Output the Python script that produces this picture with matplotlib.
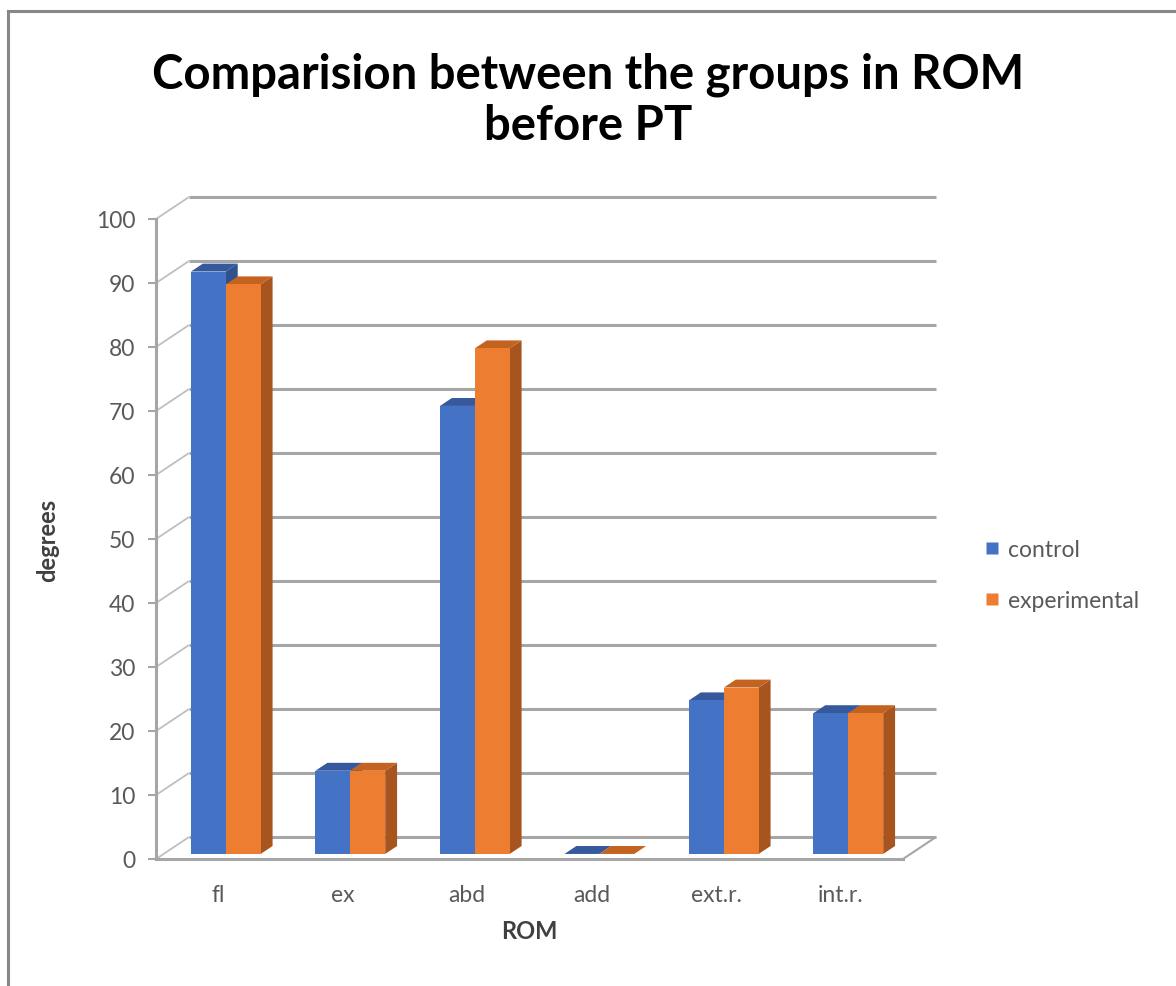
import numpy as np
import matplotlib
matplotlib.use("Agg")
import matplotlib.pyplot as plt
from matplotlib.patches import Polygon
from matplotlib.lines import Line2D

# ROM values (degrees) before PT
categories = ["fl", "ex", "abd", "add", "ext.r.", "int.r."]
control = [91, 13, 70, 0, 24, 22]
experimental = [89, 13, 79, 0, 26, 22]
series_names = ["control", "experimental"]
yticks = list(range(0, 101, 10))

plt.rcParams['font.family'] = ['Lato', 'DejaVu Sans']

BLUE = {'front': '#4472C4', 'side': '#2F528F', 'top': '#35599C'}
ORANGE = {'front': '#ED7D31', 'side': '#A8541E', 'top': '#C4621F'}
GRID = '#A6A6A6'
TXT = '#595959'

# pseudo 3d: full depth offset in pixels, bars sit between D0 and D1
DX, DY = 33.0, 22.0
D0, D1 = 0.23, 0.59
BAR_W = 0.28

fig = plt.figure(figsize=(11.76, 9.87), dpi=100)
W, H = 1176, 987
ax = fig.add_axes([156 / W, (H - 860) / H, 747 / W, 640 / H])
ax.set_xlim(-0.5, len(categories) - 0.5)
ax.set_ylim(0, 100)
ax.patch.set_visible(False)
for s in ['top', 'right']:
    ax.spines[s].set_visible(False)
for s in ['left', 'bottom']:
    ax.spines[s].set_color(GRID)
    ax.spines[s].set_linewidth(2.2)

ax.set_yticks(yticks)
ax.tick_params(axis='y', length=6, width=1.5, color=GRID, pad=9,
               labelsize=16.5, labelcolor=TXT)
ax.set_xticks(range(len(categories)))
ax.set_xticklabels(categories)
ax.tick_params(axis='x', length=0, pad=18, labelsize=16.5, labelcolor=TXT)


def proj(x, v, d):
    # shift a data point back by depth d (0 = front plane, 1 = back wall)
    p = ax.transData.transform((x, v)) + d * np.array([DX, DY])
    return ax.transData.inverted().transform(p)


def seg(p, q, **kw):
    ax.plot([p[0], q[0]], [p[1], q[1]], clip_on=False, solid_capstyle='butt', **kw)


x0, x1 = -0.5, len(categories) - 0.5
# back wall gridlines and side wall diagonals
for v in yticks:
    seg(proj(x0, v, 1), proj(x1, v, 1), color=GRID, lw=2.2, zorder=1)
    seg(proj(x0, v, 0), proj(x0, v, 1), color='#BFBFBF', lw=1.3, zorder=1)
# floor right edge
seg(proj(x1, 0, 0), proj(x1, 0, 1), color=GRID, lw=1.5, zorder=1)


def box(xl, xr, v, col, z):
    fl = proj(xl, 0, D0); fr = proj(xr, 0, D0)
    tl = proj(xl, v, D0); tr = proj(xr, v, D0)
    br_b = proj(xr, 0, D1); br_t = proj(xr, v, D1); bl_t = proj(xl, v, D1)
    side = Polygon([fr, br_b, br_t, tr], closed=True, fc=col['side'], ec='none', zorder=z)
    top = Polygon([tl, tr, br_t, bl_t], closed=True, fc=col['top'], ec='none', zorder=z)
    front = Polygon([fl, fr, tr, tl], closed=True, fc=col['front'], ec='none', zorder=z)
    for p in (side, top, front):
        p.set_clip_on(False)
        ax.add_patch(p)


for i in range(len(categories)):
    box(i - BAR_W, i, control[i], BLUE, 3 + 2 * i)
    box(i, i + BAR_W, experimental[i], ORANGE, 4 + 2 * i)

ax.set_xlabel("ROM", fontsize=17, fontweight='bold', color='#404040', labelpad=10)
ax.set_ylabel("degrees", fontsize=17, fontweight='bold', color='#404040', labelpad=26)

handles = [Line2D([], [], ls='none', marker='s', ms=8, mfc=BLUE['front'], mec='none'),
           Line2D([], [], ls='none', marker='s', ms=8, mfc=ORANGE['front'], mec='none')]
fig.legend(handles, series_names, loc='center left', bbox_to_anchor=(962 / W, 1 - 576 / H),
           frameon=False, fontsize=16.5, labelcolor=TXT, handlelength=0.8,
           handletextpad=0.3, labelspacing=1.3)

fig.text(0.5, 1 - 100 / H, "Comparision between the groups in ROM\nbefore PT",
         ha='center', va='center', fontsize=34, fontweight='bold',
         color='black', linespacing=1.2)

# chart area frame (top and left edges)
fig.add_artist(Line2D([8 / W, 8 / W], [0, 1 - 12 / H], color='#878787', lw=2.2,
                      transform=fig.transFigure))
fig.add_artist(Line2D([8 / W, 1], [1 - 12 / H, 1 - 12 / H], color='#878787', lw=2.2,
                      transform=fig.transFigure))

fig.savefig("out.png", dpi=100, facecolor='white')
